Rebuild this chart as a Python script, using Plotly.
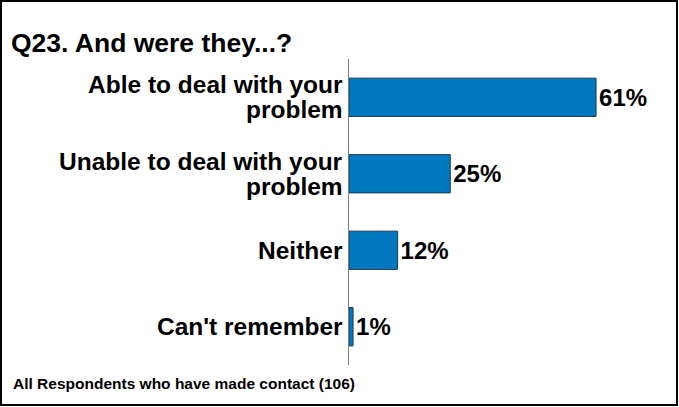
import plotly.graph_objects as go

categories = ["Able to deal with your problem", "Unable to deal with your problem", "Neither", "Can't remember"]
label_lines = [["Able to deal with your", "problem"], ["Unable to deal with your", "problem"], ["Neither"], ["Can't remember"]]
values = [61, 25, 12, 1]
value_labels = ["61%", "25%", "12%", "1%"]
title_text = "Q23. And were they...?"
footnote_text = "All Respondents who have made contact (106)"

FONT = "Liberation Sans, Arial, sans-serif"
W, H = 679, 407
L, R, T, B = 349, 26, 59, 42
pw = W - L - R
ph = H - T - B

def px_x(px):
    return (px - L) / pw

def px_y(py):
    return 1 - (py - T) / ph

fig = go.Figure(go.Bar(
    x=values, y=categories, orientation="h",
    marker=dict(color="#0079C1", line=dict(color="#1c3550", width=1)),
    width=0.5,
    text=value_labels, textposition="outside", constraintext="none",
    textfont=dict(family=FONT, size=24, color="black", weight="bold"),
    cliponaxis=False,
))

annotations = []
line_gap = 25
for cat, lines in zip(categories, label_lines):
    n = len(lines)
    for i, ln in enumerate(lines):
        offset = (i - (n - 1) / 2) * line_gap
        annotations.append(dict(
            text="<b>" + ln + "</b>", xref="paper", yref="y", x=px_x(345), y=cat,
            xanchor="right", yanchor="middle", yshift=-offset, showarrow=False,
            font=dict(family=FONT, size=24.5, color="black"),
        ))

annotations += [
    dict(text="<b>" + title_text + "</b>", xref="paper", yref="paper",
         x=px_x(9), y=px_y(43), xanchor="left", yanchor="middle", showarrow=False,
         font=dict(family=FONT, size=26.5, color="black")),
    dict(text="<b>" + footnote_text + "</b>", xref="paper", yref="paper",
         x=px_x(11), y=px_y(383), xanchor="left", yanchor="middle", showarrow=False,
         font=dict(family=FONT, size=15.5, color="black")),
]

fig.update_layout(
    width=W, height=H,
    margin=dict(l=L, r=R, t=T, b=B),
    paper_bgcolor="white", plot_bgcolor="white",
    showlegend=False,
    font=dict(family=FONT, color="black"),
    xaxis=dict(range=[0, pw / 4.05], visible=False, fixedrange=True),
    yaxis=dict(
        autorange="reversed", showline=True, linecolor="#808080", linewidth=1,
        ticks="", showgrid=False, zeroline=False, showticklabels=False,
    ),
    annotations=annotations,
    shapes=[
        dict(type="rect", xref="paper", yref="paper",
             x0=px_x(1), x1=px_x(677), y0=px_y(1), y1=px_y(405),
             line=dict(color="black", width=2), fillcolor="rgba(0,0,0,0)", layer="above"),
    ],
)

fig.write_html("out.html")
